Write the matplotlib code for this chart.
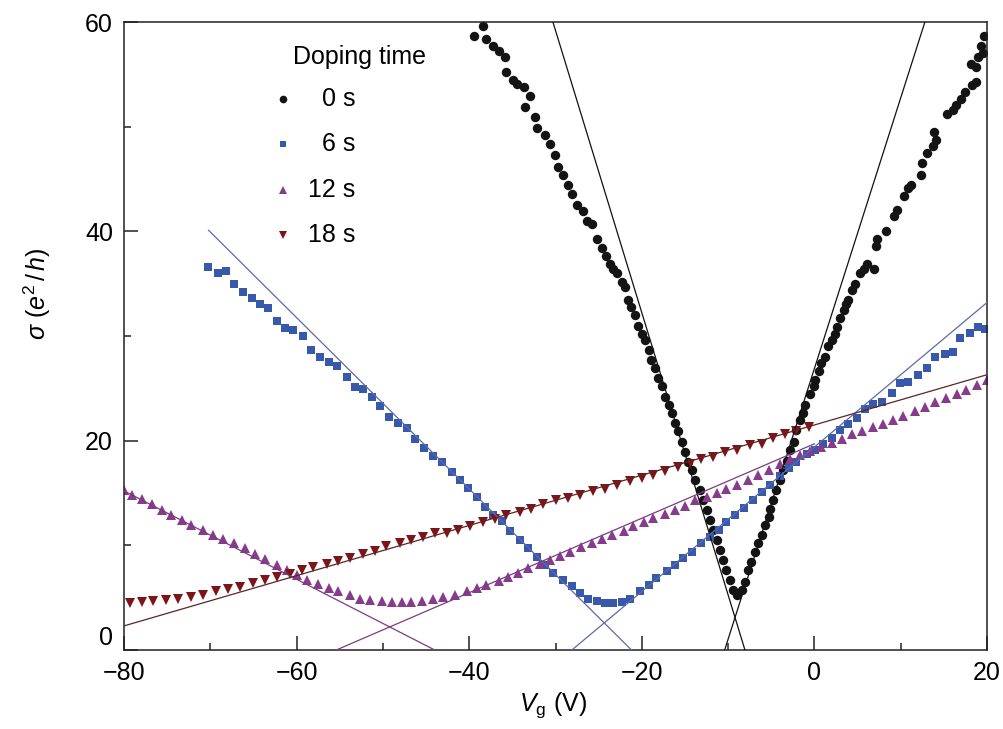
import matplotlib
matplotlib.use('Agg')
import matplotlib.pyplot as plt
from matplotlib.ticker import MultipleLocator

plt.rcParams['font.family'] = ['Liberation Sans', 'DejaVu Sans']
plt.rcParams['mathtext.fontset'] = 'custom'
plt.rcParams['mathtext.rm'] = 'Liberation Sans'
plt.rcParams['mathtext.it'] = 'Liberation Sans:italic'

# 0 s doping (black circles)
vg_0s = [-39.5, -38.4, -38.0, -37.2, -36.6, -35.9, -35.7, -34.9, -34.5, -33.7,
         -33.0, -33.5, -32.4, -32.2, -31.2, -30.6, -30.1, -29.7, -29.1, -28.5,
         -28.1, -27.5, -26.8, -26.4, -25.8, -25.2, -24.6, -24.1, -23.7, -23.3,
         -22.9, -22.3, -21.9, -21.6, -21.2, -20.8, -20.4, -20.0, -19.6, -19.2,
         -18.9, -18.5, -18.1, -17.7, -17.3, -16.9, -16.5, -16.2, -15.8, -15.4,
         -15.0, -14.6, -14.2, -13.8, -13.3, -12.9, -12.5, -12.1, -11.7, -11.3,
         -10.9, -10.6, -10.2, -9.8, -9.4, -9.0, -8.4, -8.0, -7.7, -7.3,
         -6.9, -6.5, -6.1, -5.7, -5.3, -5.1, -4.8, -4.4, -4.0, -3.6,
         -3.2, -2.8, -2.4, -2.1, -1.7, -1.3, -1.1, -0.5, -0.1, 0.1,
         0.5, 0.8, 1.2, 1.6, 2.0, 2.4, 2.6, 3.0, 3.4, 3.7,
         3.9, 4.3, 4.7, 5.3, 5.7, 6.1, 6.9, 7.1, 7.3, 8.3,
         9.2, 9.6, 10.4, 10.8, 11.2, 12.3, 12.5, 13.1, 13.7, 14.1,
         13.9, 15.4, 16.0, 16.4, 17.0, 17.5, 18.3, 18.7, 18.1, 18.7,
         18.9, 19.5, 19.3, 19.7]
sig_0s = [58.7, 59.6, 58.4, 57.7, 57.2, 56.7, 55.2, 54.5, 54.1, 53.8,
          52.9, 51.9, 50.9, 49.9, 49.2, 48.3, 47.3, 46.1, 45.4, 44.4,
          43.6, 42.5, 41.9, 41.0, 40.7, 39.3, 38.4, 37.6, 36.9, 36.4,
          36.0, 35.2, 34.7, 33.4, 32.8, 32.0, 31.0, 30.2, 29.6, 28.7,
          27.7, 26.9, 26.0, 25.2, 24.2, 23.4, 22.6, 21.7, 20.9, 19.9,
          18.9, 18.0, 17.2, 16.2, 15.3, 14.3, 13.4, 12.4, 11.5, 10.5,
          9.6, 8.6, 7.6, 6.7, 5.7, 5.3, 5.7, 6.5, 7.6, 8.4,
          9.4, 10.2, 11.0, 11.9, 12.7, 13.5, 14.3, 15.3, 16.2, 17.2,
          18.1, 19.1, 19.9, 21.0, 22.0, 22.6, 23.4, 24.5, 25.2, 25.8,
          26.7, 27.4, 28.0, 29.0, 29.6, 30.2, 30.9, 31.7, 32.5, 33.1,
          33.4, 34.4, 35.0, 36.0, 36.4, 36.9, 36.4, 38.6, 39.3, 40.0,
          41.5, 42.0, 43.4, 44.1, 44.4, 45.4, 46.5, 47.5, 48.2, 48.7,
          49.5, 51.2, 51.6, 52.1, 52.6, 53.3, 54.0, 54.3, 56.0, 55.7,
          56.7, 57.0, 57.7, 58.7]

# 6 s doping (blue squares)
vg_6s = [-70.3, -69.1, -68.2, -67.3, -66.2, -65.2, -64.2, -63.3, -62.3, -61.3,
         -60.4, -59.3, -58.3, -57.3, -56.3, -55.3, -54.2, -53.2, -52.3, -51.3,
         -50.3, -49.3, -48.2, -47.2, -46.3, -45.2, -44.2, -43.2, -42.0, -41.1,
         -40.1, -39.1, -38.2, -37.2, -36.2, -35.3, -34.1, -33.2, -32.2, -31.2,
         -30.3, -29.1, -28.1, -27.2, -26.2, -25.2, -24.3, -23.3, -22.3, -21.4,
         -20.2, -19.2, -18.3, -17.1, -16.2, -15.2, -14.2, -13.1, -12.1, -11.1,
         -10.2, -9.2, -8.2, -7.1, -6.1, -5.1, -4.0, -3.0, -2.1, -0.9,
         0.1, 1.0, 2.0, 3.0, 3.9, 4.9, 5.9, 6.8, 7.8, 9.0,
         9.9, 10.9, 12.0, 13.0, 14.0, 15.1, 16.1, 16.9, 18.0, 19.0,
         19.8]
sig_6s = [36.6, 36.0, 36.2, 35.0, 34.2, 33.6, 33.1, 32.7, 31.4, 30.8,
          30.6, 30.0, 28.7, 28.0, 27.5, 27.1, 26.1, 25.1, 24.9, 24.2,
          23.3, 22.3, 21.7, 21.2, 20.2, 19.3, 18.5, 18.0, 17.0, 16.2,
          15.5, 14.6, 13.7, 12.9, 12.3, 11.4, 10.5, 9.7, 8.9, 8.1,
          7.4, 6.7, 6.1, 5.4, 4.9, 4.7, 4.5, 4.5, 4.6, 4.9,
          5.6, 6.2, 6.9, 7.5, 8.1, 8.8, 9.4, 10.2, 10.8, 11.5,
          12.2, 12.9, 13.6, 14.3, 15.1, 15.8, 16.6, 17.4, 18.0, 18.7,
          19.1, 19.7, 20.3, 21.0, 21.6, 22.2, 23.0, 23.5, 23.7, 24.6,
          25.5, 25.6, 26.3, 26.9, 28.0, 28.3, 28.5, 29.8, 30.3, 30.9,
          30.7]

# 12 s doping (purple up-triangles)
vg_12s = [-80.0, -79.1, -77.9, -76.8, -75.6, -74.5, -73.3, -72.2, -70.8, -69.7,
          -68.5, -67.3, -66.0, -64.8, -63.7, -62.3, -61.1, -60.0, -58.8, -57.5,
          -56.3, -55.2, -53.8, -52.7, -51.5, -50.1, -49.0, -47.8, -46.7, -45.5,
          -44.2, -43.0, -41.7, -40.3, -39.1, -38.0, -36.6, -35.5, -34.3, -33.2,
          -31.8, -30.6, -29.5, -28.3, -27.0, -25.8, -24.6, -23.5, -22.1, -21.0,
          -19.8, -18.7, -17.3, -16.2, -15.0, -13.8, -12.5, -11.3, -10.2, -9.0,
          -7.7, -6.5, -5.3, -4.0, -2.8, -1.7, -0.5, 0.8, 2.0, 3.2,
          4.3, 5.5, 6.8, 8.0, 9.1, 10.3, 11.7, 12.8, 14.0, 15.3,
          16.5, 17.6, 18.8, 20.0]
sig_12s = [15.3, 14.8, 14.4, 13.9, 13.4, 12.9, 12.4, 11.9, 11.5, 11.0,
           10.6, 10.2, 9.7, 9.2, 8.7, 8.1, 7.6, 7.2, 6.7, 6.3,
           5.9, 5.6, 5.3, 4.9, 4.8, 4.7, 4.6, 4.6, 4.6, 4.7,
           4.9, 5.1, 5.3, 5.6, 5.9, 6.2, 6.6, 7.0, 7.4, 7.8,
           8.2, 8.6, 9.0, 9.4, 9.8, 10.2, 10.6, 11.0, 11.4, 11.8,
           12.2, 12.6, 13.0, 13.4, 13.8, 14.3, 14.6, 15.0, 15.4, 15.8,
           16.2, 16.7, 17.2, 17.8, 18.2, 18.6, 19.0, 19.4, 19.8, 20.2,
           20.6, 20.9, 21.3, 21.6, 22.0, 22.4, 22.8, 23.2, 23.7, 24.1,
           24.5, 24.8, 25.3, 25.8]

# 18 s doping (dark red down-triangles)
vg_18s = [-79.3, -77.9, -76.6, -75.1, -73.7, -72.2, -70.8, -69.3, -67.9, -66.6,
          -65.0, -63.7, -62.3, -60.8, -59.4, -58.1, -56.5, -55.2, -53.8, -52.3,
          -50.9, -49.6, -48.0, -46.7, -45.3, -44.0, -42.6, -41.3, -39.9, -38.4,
          -37.0, -35.7, -34.1, -32.8, -31.4, -29.9, -28.5, -27.2, -25.6, -24.3,
          -22.9, -21.4, -20.0, -18.7, -17.3, -15.8, -14.4, -13.1, -11.7, -10.4,
          -9.0, -7.5, -6.1, -4.8, -3.4, -2.1, -0.6]
sig_18s = [4.5, 4.6, 4.7, 4.8, 4.9, 5.1, 5.3, 5.6, 5.8, 6.0,
           6.4, 6.7, 7.0, 7.3, 7.6, 7.9, 8.2, 8.5, 8.8, 9.2,
           9.5, 9.9, 10.2, 10.5, 10.8, 11.2, 11.2, 11.5, 11.8, 12.2,
           12.5, 12.9, 13.2, 13.5, 13.9, 14.3, 14.5, 14.8, 15.2, 15.4,
           15.8, 16.1, 16.4, 16.7, 17.1, 17.5, 17.8, 18.2, 18.4, 18.9,
           19.1, 19.6, 19.7, 20.3, 20.6, 20.9, 21.3]

# linear fits (end points)
fit_0s_left_v, fit_0s_left_s = [-30.3, -8.05], [60, 0]
fit_0s_right_v, fit_0s_right_s = [-10.4, 12.8], [0, 60]
fit_6s_left_v, fit_6s_left_s = [-70.2, -21.2], [40.1, 0]
fit_6s_right_v, fit_6s_right_s = [-28.1, 20], [0, 33.2]
fit_12s_left_v, fit_12s_left_s = [-80, -44.0], [15.2, 0]
fit_12s_right_v, fit_12s_right_s = [-55.4, 0], [0, 19.7]
fit_18s_v, fit_18s_s = [-80, 20], [2.3, 26.3]

labels = ['0 s', '6 s', '12 s', '18 s']
colors = ['#141414', '#3758ab', '#873b8c', '#7c1519']
markers = ['o', 's', '^', 'v']
line_colors = ['#111111', '#5d6aa8', '#7a3d7e', '#5e2424']

fig = plt.figure(figsize=(10.04, 7.29), dpi=100)
ax = fig.add_axes([0.1235, 0.1084, 0.8596, 0.8614])

series = [(vg_0s, sig_0s), (vg_6s, sig_6s), (vg_12s, sig_12s), (vg_18s, sig_18s)]
sizes = [6.8, 5.8, 7.0, 7.0]
for (v, s), c, m, ms in zip(series, colors, markers, sizes):
    ax.plot(v, s, linestyle='none', marker=m, color=c, markersize=ms,
            markeredgewidth=0, zorder=2)

fits = [(fit_0s_left_v, fit_0s_left_s, 0), (fit_0s_right_v, fit_0s_right_s, 0),
        (fit_6s_left_v, fit_6s_left_s, 1), (fit_6s_right_v, fit_6s_right_s, 1),
        (fit_12s_left_v, fit_12s_left_s, 2), (fit_12s_right_v, fit_12s_right_s, 2),
        (fit_18s_v, fit_18s_s, 3)]
for v, s, i in fits:
    ax.plot(v, s, color=line_colors[i], linewidth=0.9, zorder=3)

ax.set_xlim(-80, 20)
ax.set_ylim(0, 60)
ax.set_xticks([-80, -60, -40, -20, 0, 20])
ax.set_yticks([0, 20, 40, 60])
ax.xaxis.set_minor_locator(MultipleLocator(10))
ax.yaxis.set_minor_locator(MultipleLocator(10))
ax.tick_params(which='both', direction='in', top=False, right=False,
               labelsize=18, width=1.1, color='#222222')
ax.tick_params(which='major', length=10, pad=8)
ax.tick_params(which='minor', length=5)
for sp in ax.spines.values():
    sp.set_linewidth(1.1)
    sp.set_color('#222222')

# lift the "0" y label a bit so it clears the x labels
ax.yaxis.get_major_ticks()[0].label1.set_verticalalignment('bottom')

ax.set_xlabel(r'$V_{\mathrm{g}}$ (V)', fontsize=18, va='center')
ax.set_ylabel(r'$\sigma$ ($e^2\,/\,h$)', fontsize=18, va='center')
ax.xaxis.set_label_coords(0.497, -0.088)
ax.yaxis.set_label_coords(-0.1, 0.568)

# legend drawn by hand (labels right aligned)
ax.text(0.196, 0.944, 'Doping time', transform=ax.transAxes, fontsize=18,
        ha='left', va='center')
leg_y = [0.877, 0.806, 0.732, 0.661]
leg_ms = [5.5, 4.5, 5.5, 5.5]
for lab, c, m, y, ms in zip(labels, colors, markers, leg_y, leg_ms):
    ax.plot([0.184], [y], marker=m, color=c, markersize=ms, markeredgewidth=0,
            transform=ax.transAxes, clip_on=False)
    ax.text(0.268, y, lab, transform=ax.transAxes, fontsize=18,
            ha='right', va='center')

fig.savefig('out.png', dpi=100)
